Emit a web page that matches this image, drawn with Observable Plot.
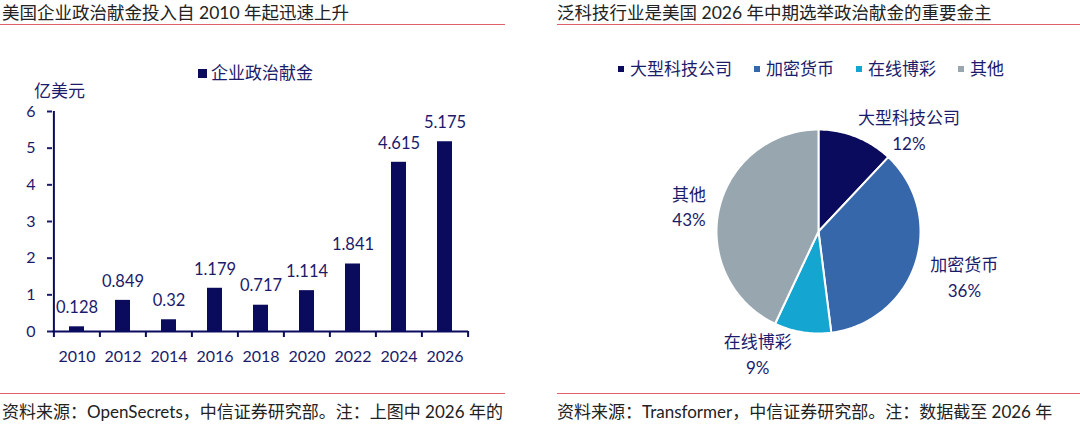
<!DOCTYPE html>
<html>
<head>
<meta charset="utf-8">
<script src="https://cdn.jsdelivr.net/npm/d3@7"></script>
<script src="https://cdn.jsdelivr.net/npm/@observablehq/plot@0.6"></script>
<style>
  body { margin:0; width:1080px; height:426px; position:relative; background:#fff; overflow:hidden;
         font-family: Lato, "Noto Sans CJK SC", sans-serif; }
  .abs { position:absolute; white-space:nowrap; }
  .title { font-size:17.5px; line-height:20px; color:#222; }
  .foot { font-size:17px; line-height:22px; color:#222; }
  .redline { position:absolute; height:1px; background:#e0606c; }
  .navy { color:#1b1b6b; }
  .sw { display:inline-block; vertical-align:middle; }
</style>
</head>
<body>
<script>
// ---------- data ----------
const leftTitle = "美国企业政治献金投入自 2010 年起迅速上升";
const rightTitle = "泛科技行业是美国 2026 年中期选举政治献金的重要金主";
const leftFoot = "资料来源：OpenSecrets，中信证券研究部。注：上图中 2026 年的";
const rightFoot = "资料来源：Transformer，中信证券研究部。注：数据截至 2026 年";
const seriesName = "企业政治献金";
const unitLabel = "亿美元";
const years = ["2010","2012","2014","2016","2018","2020","2022","2024","2026"];
const donations = [0.128, 0.849, 0.32, 1.179, 0.717, 1.114, 1.841, 4.615, 5.175];
const yTicks = [0, 1, 2, 3, 4, 5, 6];
const sectors = ["大型科技公司", "加密货币", "在线博彩", "其他"];
const shares = [12, 36, 9, 43];

// ---------- styles ----------
const NAVY = "#0b0b5e";
const TXT = "#1b1b6b";
const sectorColors = ["#0b0b5e", "#3567aa", "#14a6d0", "#98a6b0"];

function addDiv(cls, left, top, html, extra) {
  const d = document.createElement("div");
  d.className = "abs " + cls;
  d.style.left = left + "px"; d.style.top = top + "px";
  d.innerHTML = html;
  if (extra) Object.assign(d.style, extra);
  document.body.appendChild(d);
  return d;
}
function addLine(left, top, width) {
  const d = document.createElement("div");
  d.className = "redline";
  d.style.left = left + "px"; d.style.top = top + "px"; d.style.width = width + "px";
  document.body.appendChild(d);
}

// titles, rules, footers
addDiv("title", 2, 3, leftTitle);
addDiv("title", 557, 3, rightTitle);
addLine(0, 24, 505);
addLine(557, 24, 523);
addLine(0, 393, 505);
addLine(557, 393, 523);
addDiv("foot", 2, 401, leftFoot);
addDiv("foot", 557, 401, rightFoot);

// left legend + unit
addDiv("navy", 198, 59, `<span class="sw" style="width:9px;height:9px;background:${NAVY};margin-right:4px;margin-top:-3px"></span><span style="font-size:17px">${seriesName}</span>`);
addDiv("navy", 34, 77, unitLabel, {fontSize:"17px"});

// right legend
const leg = addDiv("navy", 618, 55, "", {display:"flex", gap:"22px", fontSize:"17px", alignItems:"center"});
sectors.forEach((s, i) => {
  const it = document.createElement("span");
  it.innerHTML = `<span class="sw" style="width:6px;height:6px;background:${sectorColors[i]};margin-right:6px;margin-top:-3px"></span>${s}`;
  leg.appendChild(it);
});

// ---------- bar chart ----------
const barData = years.map((y, i) => ({year: y, value: donations[i]}));
const W = 520, H = 280, ML = 52, MR = 52, MT = 21, MB = 39;
const step = (W - ML - MR) / years.length;
const tickLen = 6 / ((H - MT - MB) / 6);
const bar = Plot.plot({
  width: W, height: H, marginLeft: ML, marginRight: MR, marginTop: MT, marginBottom: MB,
  style: {fontFamily: "Lato, 'Noto Sans CJK SC', sans-serif", background: "transparent", overflow: "visible"},
  x: {domain: years, paddingInner: 0.68, paddingOuter: 0.34, axis: null},
  y: {domain: [0, 6], axis: null},
  marks: [
    Plot.barY(barData, {x: "year", y: "value", fill: NAVY}),
    Plot.ruleY([0], {stroke: NAVY, strokeWidth: 2}),
    Plot.ruleX([years[0]], {x: d => d, y1: 0, y2: 6, dx: -step / 2, stroke: NAVY, strokeWidth: 2}),
    Plot.ruleX(years, {x: d => d, y1: 0, y2: -tickLen, dx: -step / 2, stroke: NAVY, strokeWidth: 2}),
    Plot.ruleX([years[years.length - 1]], {x: d => d, y1: 0, y2: -tickLen, dx: step / 2, stroke: NAVY, strokeWidth: 2}),
    Plot.axisY(yTicks, {tickSize: 5, tickPadding: 12, fontSize: 16, color: TXT, strokeWidth: 2, label: null}),
    Plot.axisX({tickSize: 0, tickPadding: 19, fontSize: 16, color: TXT, label: null}),
    Plot.text(barData, {x: "year", y: "value", text: d => String(d.value), dy: -19, fontSize: 16.5, fill: TXT})
  ]
});
bar.style.position = "absolute"; bar.style.left = "0px"; bar.style.top = "90px";
document.body.appendChild(bar);

// ---------- pie chart ----------
const total = d3.sum(shares);
const arcs = d3.pie().sort(null).value(d => d)(shares);
const R = 102, CX = 278, CY = 141, FS = 17;
const slicePts = [];
arcs.forEach((a, i) => {
  slicePts.push({sector: sectors[i], x: 0, y: 0});
  const n = Math.max(2, Math.ceil((a.endAngle - a.startAngle) / (Math.PI / 180)));
  for (let k = 0; k <= n; k++) {
    const t = a.startAngle + (a.endAngle - a.startAngle) * k / n;
    slicePts.push({sector: sectors[i], x: Math.sin(t), y: Math.cos(t)});
  }
});
// label placement adjustments (pixels)
const nudge = {"大型科技公司": [0, -3], "加密货币": [10, 11], "在线博彩": [-44, -7], "其他": [-8, -3]};
const labelData = arcs.map((a, i) => {
  const m = (a.startAngle + a.endAngle) / 2;
  const s = Math.sin(m), c = Math.cos(m);
  const side = s > 0.3 ? 1 : s < -0.3 ? -1 : 0;
  const half = sectors[i].length * FS / 2;
  const [nx, ny] = nudge[sectors[i]];
  return {
    x: 1.05 * s + (side * half + nx) / R,
    y: 1.05 * c - ny / R,
    lineAnchor: side === 0 ? (c < 0 ? "top" : "bottom") : "middle",
    label: `${sectors[i]}\n${Math.round(shares[i] / total * 100)}%`
  };
});
const labelMarks = ["top", "middle", "bottom"].map(la =>
  Plot.text(labelData.filter(d => d.lineAnchor === la), {x: "x", y: "y", text: "label", textAnchor: "middle",
    lineAnchor: la, lineHeight: 1.5, fontSize: FS, fill: TXT}));
const pie = Plot.plot({
  width: 540, height: 300, margin: 0,
  style: {fontFamily: "Lato, 'Noto Sans CJK SC', sans-serif", background: "transparent", overflow: "visible"},
  x: {domain: [-1, 1], range: [CX - R, CX + R], axis: null},
  y: {domain: [-1, 1], range: [CY + R, CY - R], axis: null},
  color: {domain: sectors, range: sectorColors},
  marks: [
    Plot.line(slicePts, {x: "x", y: "y", z: "sector", fill: "sector", stroke: "white", strokeWidth: 2, curve: "linear-closed"}),
    ...labelMarks
  ]
});
pie.style.position = "absolute"; pie.style.left = "540px"; pie.style.top = "90px";
document.body.appendChild(pie);
</script>
</body>
</html>
